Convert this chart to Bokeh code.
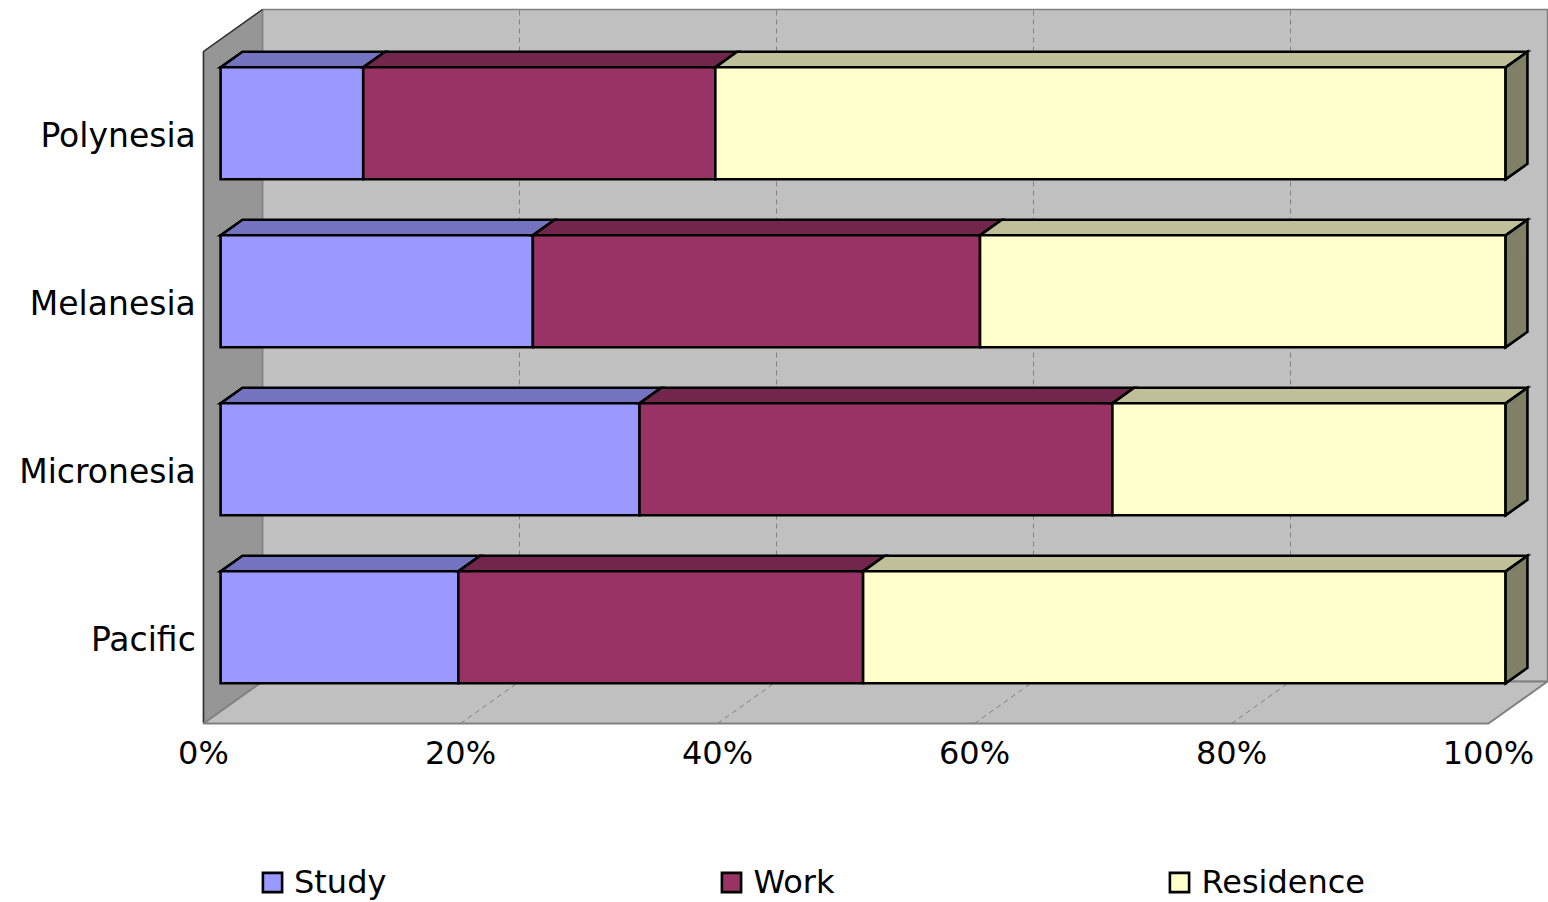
from bokeh.plotting import figure
from bokeh.models import Range1d, Legend, LegendItem
from bokeh.core.properties import value
from bokeh.embed import file_html
from bokeh.resources import INLINE

# Share of each purpose (percent) per region, bottom row first
regions = ["Pacific", "Micronesia", "Melanesia", "Polynesia"]
study = [18.5, 32.6, 24.3, 11.1]
work = [31.5, 36.8, 34.8, 27.4]
residence = [50.0, 30.6, 40.9, 61.5]

series_names = ["Study", "Work", "Residence"]
front_colors = ["#9999FF", "#993366", "#FFFFCC"]
top_colors = ["#7373BF", "#73264C", "#BFBF99"]
side_color = "#808066"

tick_values = [0, 20, 40, 60, 80, 100]
tick_labels = ["0%", "20%", "40%", "60%", "80%", "100%"]

FONT = "DejaVu Sans"
FSIZE = "32px"

# 3-D projection: depth shift of the back plane in data units
DX = 4.59    # percent
DY = 0.25    # category slots
D0, D1 = 0.29, 0.66   # front / back depth of the bars
BAR_H = 2.0 / 3.0
N = len(regions)
EDGE = 2.6

p = figure(width=1548, height=902,
           x_range=Range1d(-15.798, 104.669),
           y_range=Range1d(-1.0655, 4.3036),
           output_backend="svg", toolbar_location=None,
           x_axis_type=None, y_axis_type=None, min_border=0)
p.outline_line_color = None
p.background_fill_color = "white"
p.border_fill_color = "white"

# walls and floor
p.patch([DX, 100 + DX, 100 + DX, DX], [DY, DY, N + DY, N + DY],
        fill_color="#C0C0C0", line_color="#808080", line_width=1.5)
p.patch([0, DX, DX, 0], [0, DY, N + DY, N],
        fill_color="#969696", line_color="#808080", line_width=1.5)
p.line([0, 0, DX], [0, N, N + DY], line_color="#303030", line_width=1.5)
p.patch([0, 100, 100 + DX, DX], [0, 0, DY, DY],
        fill_color="#C0C0C0", line_color="#808080", line_width=2)

# dashed gridlines on the back wall and the floor
for t in tick_values[1:-1]:
    p.line([t + DX, t + DX], [DY, N + DY], line_color="#808080",
           line_width=1, line_dash="5 4")
    p.line([t, t + DX], [0, DY], line_color="#808080",
           line_width=1, line_dash="5 4")

# stacked 3-D bars
values = [study, work, residence]
fx, fy = D0 * DX, D0 * DY
ddx, ddy = (D1 - D0) * DX, (D1 - D0) * DY
ycent = [k + 0.5 + fy for k in range(N)]
renderers = []
left = [0.0] * N
for s, vals in enumerate(values):
    right = [l + v for l, v in zip(left, vals)]
    # top faces
    xs, ys = [], []
    for k in range(N):
        yt = ycent[k] + BAR_H / 2
        xs.append([left[k] + fx, right[k] + fx, right[k] + fx + ddx, left[k] + fx + ddx])
        ys.append([yt, yt, yt + ddy, yt + ddy])
    p.patches(xs, ys, fill_color=top_colors[s], line_color="black",
              line_width=EDGE, line_join="miter")
    r = p.hbar(y=ycent, left=[l + fx for l in left], right=[r_ + fx for r_ in right],
               height=BAR_H, fill_color=front_colors[s], line_color="black",
               line_width=EDGE, line_join="miter")
    renderers.append(r)
    left = right

# right-hand end faces
xs, ys = [], []
for k in range(N):
    yb, yt = ycent[k] - BAR_H / 2, ycent[k] + BAR_H / 2
    xe = left[k] + fx
    xs.append([xe, xe + ddx, xe + ddx, xe])
    ys.append([yb, yb + ddy, yt + ddy, yt])
p.patches(xs, ys, fill_color=side_color, line_color="black",
          line_width=EDGE, line_join="miter")

# category labels
p.text(x=[-0.6] * N, y=[k + 0.5 for k in range(N)], text=regions,
       text_font=value(FONT), text_font_size="33px", text_color="black",
       text_align="right", text_baseline="middle")

# value tick labels
p.text(x=tick_values, y=[-0.175] * len(tick_values), text=tick_labels,
       text_font=value(FONT), text_font_size=FSIZE, text_color="black",
       text_align="center", text_baseline="middle")

legend = Legend(items=[LegendItem(label=n, renderers=[r])
                       for n, r in zip(series_names, renderers)],
                orientation="horizontal", location=(260, 1),
                glyph_width=24, glyph_height=24, label_standoff=10,
                spacing=333, padding=0, margin=0,
                border_line_color=None, background_fill_alpha=0,
                label_text_font=FONT, label_text_font_size=FSIZE,
                label_text_color="black")
p.add_layout(legend)

open("out.html", "w").write(file_html(p, INLINE))
